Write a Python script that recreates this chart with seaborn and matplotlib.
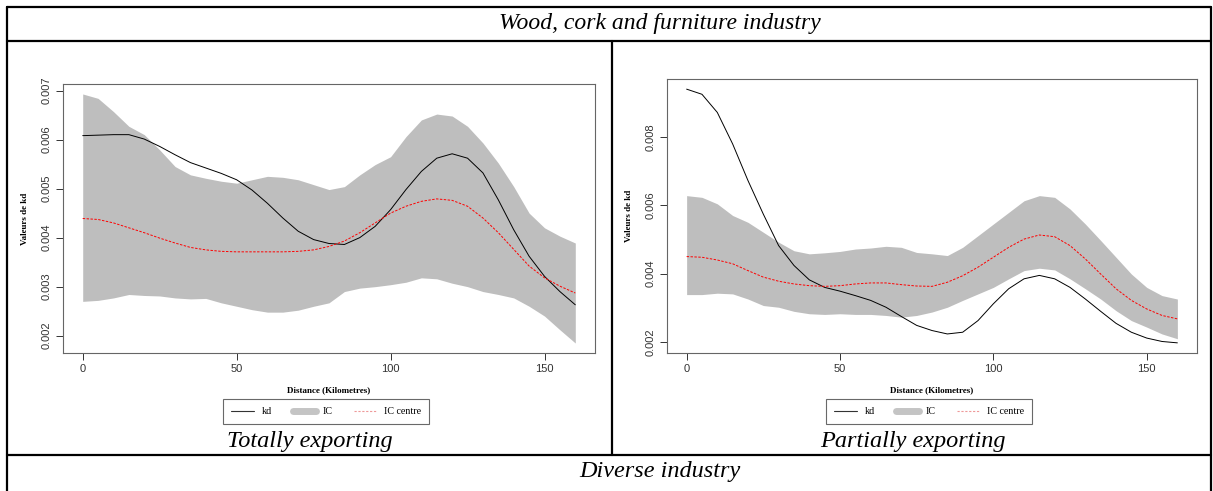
import numpy as np
import pandas as pd
import seaborn as sns
import matplotlib.pyplot as plt
from matplotlib.lines import Line2D

distance = [0, 5, 10, 15, 20, 25, 30, 35, 40, 45, 50, 55, 60, 65, 70, 75, 80,
            85, 90, 95, 100, 105, 110, 115, 120, 125, 130, 135, 140, 145, 150, 155, 160]

# Totally exporting
tot_kd = [0.00608, 0.00609, 0.00610, 0.00610, 0.00601, 0.00586, 0.00569, 0.00553, 0.00542,
          0.00531, 0.00518, 0.00497, 0.00470, 0.00440, 0.00413, 0.00396, 0.00388, 0.00386,
          0.00400, 0.00423, 0.00457, 0.00498, 0.00535, 0.00562, 0.00571, 0.00562, 0.00532,
          0.00477, 0.00416, 0.00362, 0.00321, 0.00290, 0.00263]
tot_hi = [0.00693, 0.00684, 0.00657, 0.00627, 0.00610, 0.00579, 0.00545, 0.00528, 0.00521,
          0.00515, 0.00511, 0.00518, 0.00525, 0.00523, 0.00518, 0.00508, 0.00498, 0.00504,
          0.00528, 0.00549, 0.00565, 0.00606, 0.00640, 0.00652, 0.00648, 0.00627, 0.00593,
          0.00552, 0.00504, 0.00450, 0.00420, 0.00403, 0.00389]
tot_lo = [0.00270, 0.00272, 0.00277, 0.00284, 0.00282, 0.00281, 0.00277, 0.00275, 0.00276,
          0.00267, 0.00260, 0.00253, 0.00248, 0.00248, 0.00252, 0.00260, 0.00267, 0.00290,
          0.00297, 0.00300, 0.00304, 0.00309, 0.00318, 0.00316, 0.00307, 0.00300, 0.00290,
          0.00284, 0.00277, 0.00260, 0.00240, 0.00212, 0.00185]
tot_centre = [0.00439, 0.00437, 0.00430, 0.00420, 0.00410, 0.00399, 0.00389, 0.00380, 0.00375,
              0.00372, 0.00371, 0.00371, 0.00371, 0.00371, 0.00372, 0.00375, 0.00382, 0.00393,
              0.00410, 0.00430, 0.00450, 0.00464, 0.00474, 0.00479, 0.00476, 0.00464, 0.00440,
              0.00410, 0.00376, 0.00342, 0.00318, 0.00301, 0.00287]

# Partially exporting
par_kd = [0.00939, 0.00924, 0.00871, 0.00779, 0.00672, 0.00574, 0.00482, 0.00424, 0.00382,
          0.00360, 0.00349, 0.00336, 0.00322, 0.00302, 0.00275, 0.00249, 0.00234, 0.00224,
          0.00229, 0.00263, 0.00312, 0.00356, 0.00385, 0.00395, 0.00385, 0.00360, 0.00326,
          0.00290, 0.00255, 0.00229, 0.00212, 0.00202, 0.00198]
par_hi = [0.00628, 0.00623, 0.00604, 0.00570, 0.00550, 0.00521, 0.00492, 0.00467, 0.00458,
          0.00461, 0.00465, 0.00472, 0.00475, 0.00480, 0.00477, 0.00462, 0.00458, 0.00453,
          0.00477, 0.00511, 0.00545, 0.00579, 0.00613, 0.00628, 0.00623, 0.00589, 0.00545,
          0.00497, 0.00448, 0.00399, 0.00360, 0.00336, 0.00326]
par_lo = [0.00339, 0.00339, 0.00343, 0.00341, 0.00326, 0.00307, 0.00302, 0.00290, 0.00283,
          0.00281, 0.00283, 0.00281, 0.00281, 0.00278, 0.00273, 0.00278, 0.00288, 0.00302,
          0.00322, 0.00341, 0.00360, 0.00385, 0.00409, 0.00416, 0.00411, 0.00385, 0.00356,
          0.00326, 0.00292, 0.00263, 0.00244, 0.00224, 0.00210]
par_centre = [0.00450, 0.00448, 0.00440, 0.00429, 0.00409, 0.00390, 0.00378, 0.00370, 0.00365,
              0.00363, 0.00365, 0.00370, 0.00373, 0.00373, 0.00368, 0.00364, 0.00363, 0.00375,
              0.00394, 0.00419, 0.00448, 0.00477, 0.00501, 0.00513, 0.00508, 0.00482, 0.00443,
              0.00399, 0.00356, 0.00322, 0.00297, 0.00278, 0.00268]

table_title = 'Wood, cork and furniture industry'
panel_titles = ['Totally exporting', 'Partially exporting']
next_title = 'Diverse industry'
tot_yticks = [0.002, 0.003, 0.004, 0.005, 0.006, 0.007]
par_yticks = [0.002, 0.004, 0.006, 0.008]

sns.set_theme(style='white')
plt.rcParams['font.family'] = ['Liberation Sans', 'DejaVu Sans']
plt.rcParams['text.color'] = 'black'
plt.rcParams['axes.labelcolor'] = 'black'

fig = plt.figure(figsize=(12.13, 4.91), dpi=100)
W, H = 1213, 491


def fx(px):
    return px / W


def fy(py):
    return 1 - py / H


def draw_panel(ax, kd, lo, hi, centre, yticks, leg_x):
    df = pd.DataFrame({'d': distance, 'kd': kd, 'lo': lo, 'hi': hi, 'centre': centre})
    ax.fill_between(df['d'], df['lo'], df['hi'], color='#bebebe', linewidth=0)
    sns.lineplot(data=df, x='d', y='kd', ax=ax, color='black', linewidth=0.7)
    sns.lineplot(data=df, x='d', y='centre', ax=ax, color='red', linewidth=0.7,
                 linestyle=(0, (2.5, 1.5)))
    allv = kd + lo + hi + centre
    lo_v, hi_v = min(allv), max(allv)
    r = hi_v - lo_v
    ax.set_xlim(-6.4, 166.4)
    ax.set_ylim(lo_v - 0.04 * r, hi_v + 0.04 * r)
    ax.set_xticks([0, 50, 100, 150])
    ax.set_yticks(yticks)
    ax.set_yticklabels([f'{t:.3f}' for t in yticks], rotation=90, va='center')
    ax.tick_params(axis='both', direction='out', length=5, width=0.7, colors='#333333',
                   labelsize=8, pad=3, left=True, bottom=True)
    for sp in ax.spines.values():
        sp.set_color('#666666')
        sp.set_linewidth(0.8)
    ax.set_xlabel('Distance (Kilometres)', fontsize=6.5, fontweight='bold',
                  family='Liberation Serif', labelpad=9)
    ax.set_ylabel('Valeurs de kd', fontsize=6.5, fontweight='bold',
                  family='Liberation Serif', labelpad=9)
    handles = [Line2D([], [], color='#333333', linewidth=0.8),
               Line2D([], [], color='#c4c4c4', linewidth=5),
               Line2D([], [], color='#e99', linewidth=0.8, linestyle=(0, (2, 1.5)))]
    leg = ax.legend(handles, ['kd', 'IC', 'IC centre'], ncol=3, loc='upper center',
                    bbox_to_anchor=(fx(leg_x), fy(399)), bbox_transform=fig.transFigure,
                    frameon=True, fancybox=False,
                    prop={'family': 'Liberation Serif', 'size': 7.2},
                    handlelength=2.3, columnspacing=2.1, handletextpad=0.7,
                    borderpad=0.8, borderaxespad=0)
    leg.get_frame().set_edgecolor('#444444')
    leg.get_frame().set_linewidth(0.8)


ax1 = fig.add_axes([fx(63), fy(353), fx(595 - 63), (353 - 84) / H])
draw_panel(ax1, tot_kd, tot_lo, tot_hi, tot_centre, tot_yticks, 326)
ax2 = fig.add_axes([fx(667), fy(353), fx(1197 - 667), (353 - 79) / H])
draw_panel(ax2, par_kd, par_lo, par_hi, par_centre, par_yticks, 929)

# table frame
lw = 1.6
for (x0, y0, x1, y1) in [(7, 7, 1211, 7), (7, 41, 1211, 41), (7, 455, 1211, 455),
                         (7, 7, 7, 491), (1211, 7, 1211, 491), (612, 41, 612, 455)]:
    fig.add_artist(Line2D([fx(x0), fx(x1)], [fy(y0), fy(y1)], color='black', linewidth=lw))

serif = ['Liberation Serif', 'DejaVu Serif']
fig.text(fx(660), fy(24), table_title, ha='center', va='center', fontsize=17,
         style='italic', family=serif)
fig.text(fx(310), fy(441), panel_titles[0], ha='center', va='center', fontsize=17.5,
         style='italic', family=serif)
fig.text(fx(913), fy(441), panel_titles[1], ha='center', va='center', fontsize=17.5,
         style='italic', family=serif)
fig.text(fx(660), fy(471), next_title, ha='center', va='center', fontsize=17.5,
         style='italic', family=serif)

fig.savefig('out.png', dpi=100)
